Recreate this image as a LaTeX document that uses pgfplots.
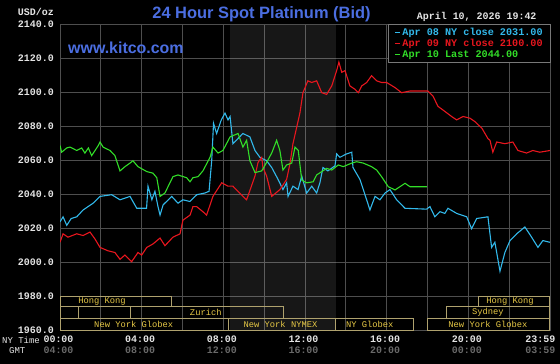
\documentclass[border=0pt]{standalone}
\usepackage{pgfplots}
\pgfplotsset{compat=1.18}
\usepackage{fontspec}
\setmainfont{Liberation Sans}
\setmonofont{Liberation Mono}
\definecolor{bluec}{RGB}{50,185,235}
\definecolor{redc}{RGB}{232,22,30}
\definecolor{greenc}{RGB}{50,222,40}
\definecolor{titlec}{RGB}{75,110,225}
\definecolor{goldc}{RGB}{230,200,70}
\definecolor{boxc}{RGB}{175,162,110}
\definecolor{gridc}{RGB}{78,78,78}
\definecolor{legc}{RGB}{120,120,120}
\definecolor{tickc}{RGB}{228,228,228}
\definecolor{gmtc}{RGB}{105,105,105}
\begin{document}
\begin{tikzpicture}
\useasboundingbox (0,0) rectangle (560bp,364bp);
\fill[black] (0,0) rectangle (560bp,364bp);
\begin{axis}[
  at={(60bp,33.3bp)}, anchor=south west,
  scale only axis, width=490bp, height=306bp,
  xmin=0, xmax=24, ymin=1960, ymax=2140,
  axis line style={draw=gridc, line width=0.8bp},
  ytick={1960,1980,2000,2020,2040,2060,2080,2100,2120,2140},
  yticklabels={1960.0,1980.0,2000.0,2020.0,2040.0,2060.0,2080.0,2100.0,2120.0,2140.0},
  xtick={0,4,8,12,16,20,23.6},
  xticklabels={00:00\\\textcolor{gmtc}{04:00},04:00\\\textcolor{gmtc}{08:00},08:00\\\textcolor{gmtc}{12:00},12:00\\\textcolor{gmtc}{16:00},16:00\\\textcolor{gmtc}{20:00},20:00\\\textcolor{gmtc}{00:00},23:59\\\textcolor{gmtc}{03:59}},
  minor xtick={0,2,4,6,8,10,12,14,16,18,20,22,24},
  xmajorgrids=false, xminorgrids=true, ymajorgrids=true,
  major grid style={draw=gridc, line width=0.8bp},
  minor grid style={draw=gridc, line width=0.8bp},
  major tick length=0pt, minor tick length=0pt,
  tick style={draw=none},
  /pgf/number format/assume math mode=true,
  yticklabel style={font=\ttfamily\bfseries\fontsize{10}{11}\selectfont, text=tickc, inner sep=0pt, xshift=-6bp},
  xticklabel style={font=\ttfamily\bfseries\fontsize{10}{11}\selectfont, text=tickc, align=center, inner sep=0pt, anchor=north, yshift=-5bp, xshift=-1.5bp},
  legend cell align=left,
  legend style={at={(1.002,1.002)}, anchor=north east, fill=black, draw=legc, line width=0.6bp,
    font=\ttfamily\bfseries\fontsize{10.2}{10.5}\selectfont, inner xsep=6bp, inner ysep=1.5bp, row sep=-1.5bp},
  legend image code/.code={\draw[#1, line width=1.3bp] (0bp,0bp) -- (5bp,0bp);},
]
% NYMEX session shading
\addplot[draw=none, fill=white, fill opacity=0.09, forget plot] coordinates {(8.33,1960)(13.5,1960)(13.5,2140)(8.33,2140)} --cycle;
% market session boxes
\addplot[boxc, line width=0.8bp, forget plot] coordinates {(0,1974.1)(5.47,1974.1)(5.47,1980)(0,1980)} --cycle;
\addplot[boxc, line width=0.8bp, forget plot] coordinates {(20.49,1974.1)(23.95,1974.1)(23.95,1980)(20.49,1980)} --cycle;
\addplot[boxc, line width=0.8bp, forget plot] coordinates {(0,1967.3)(0.92,1967.3)(0.92,1974.1)(0,1974.1)} --cycle;
\addplot[boxc, line width=0.8bp, forget plot] coordinates {(0.92,1967.3)(3.43,1967.3)(3.43,1974.1)(0.92,1974.1)} --cycle;
\addplot[boxc, line width=0.8bp, forget plot] coordinates {(3.43,1967.3)(10.94,1967.3)(10.94,1974.1)(3.43,1974.1)} --cycle;
\addplot[boxc, line width=0.8bp, forget plot] coordinates {(18.94,1967.3)(23.97,1967.3)(23.97,1974.1)(18.94,1974.1)} --cycle;
\addplot[boxc, line width=0.8bp, forget plot] coordinates {(0,1960)(8.24,1960)(8.24,1967.3)(0,1967.3)} --cycle;
\addplot[boxc, line width=0.8bp, forget plot] coordinates {(8.24,1960)(13.47,1960)(13.47,1967.3)(8.24,1967.3)} --cycle;
\addplot[boxc, line width=0.8bp, forget plot] coordinates {(13.47,1960)(17.3,1960)(17.3,1967.3)(13.47,1967.3)} --cycle;
\addplot[boxc, line width=0.8bp, forget plot] coordinates {(18.0,1960)(23.95,1960)(23.95,1967.3)(18.0,1967.3)} --cycle;
\begin{scope}[every node/.style={font=\ttfamily\fontsize{8.8}{9}\selectfont, text=goldc, inner sep=0pt}]
\node at (axis cs:2.06,1977.2) {Hong Kong};
\node at (axis cs:7.14,1970.6) {Zurich};
\node at (axis cs:3.61,1963.8) {New York Globex};
\node at (axis cs:10.8,1963.8) {New York NYMEX};
\node at (axis cs:15.17,1963.8) {NY Globex};
\node at (axis cs:20.96,1963.8) {New York Globex};
\node at (axis cs:20.96,1970.6) {Sydney};
\node at (axis cs:22.04,1977.2) {Hong Kong};
\end{scope}
% Apr 08
\addplot[bluec, line width=1.1bp] coordinates {(0,2024)(0.15,2027)(0.33,2022)(0.55,2026)(0.82,2027)(1.13,2031)(1.62,2035)(1.96,2039)(2.53,2040)(2.94,2037)(3.43,2039)(3.76,2032)(4.24,2032)(4.31,2045)(4.5,2037)(4.65,2042)(4.8,2033)(4.9,2028)(5.05,2034)(5.47,2039)(5.78,2035)(6.02,2037)(6.36,2036)(6.7,2040)(7.1,2041)(7.3,2042)(7.43,2060)(7.52,2082)(7.67,2076)(7.9,2084)(8.08,2088)(8.23,2084)(8.33,2086)(8.47,2070)(8.96,2076)(9.3,2074)(9.55,2066)(9.79,2062)(10.12,2060)(10.37,2056)(10.68,2049)(10.92,2043)(11.1,2047)(11.17,2039)(11.41,2045)(11.66,2043)(11.84,2051)(12.08,2041)(12.33,2045)(12.57,2041)(12.73,2047)(12.88,2056)(13.12,2054)(13.47,2057)(13.55,2064)(13.71,2062)(14.04,2064)(14.29,2065)(14.35,2056)(14.69,2049)(15.02,2037)(15.18,2031)(15.43,2039)(15.67,2037)(15.92,2041)(16.16,2043)(16.49,2037)(16.9,2032)(17.96,2031.5)(18.12,2033)(18.36,2027)(18.61,2030)(18.85,2029)(19.0,2032)(19.43,2029)(19.92,2027)(20.16,2020)(20.41,2026)(20.96,2027)(21.14,2009)(21.3,2012)(21.55,1995)(21.79,2006)(22.04,2013)(22.37,2017)(22.77,2021)(23.1,2015)(23.41,2009)(23.65,2013)(24,2012)};
\addlegendentry{\textcolor{bluec}{Apr 08 NY close 2031.00}}
% Apr 09
\addplot[redc, line width=1.1bp] coordinates {(0,2012)(0.15,2017)(0.39,2015)(0.82,2017)(1.13,2016)(1.47,2018)(1.71,2014)(1.96,2009)(2.35,2007)(2.69,2006)(2.94,2002)(3.18,2004.5)(3.51,2000.6)(3.82,2006)(4.0,2004.5)(4.25,2009)(4.55,2011)(4.9,2014.5)(5.14,2010)(5.53,2015)(5.88,2017)(6.02,2025)(6.37,2028)(6.51,2033)(6.69,2033)(7.0,2030)(7.18,2028)(7.49,2039)(7.92,2047)(8.23,2045)(8.47,2045)(8.96,2039)(9.14,2037)(9.55,2051)(9.7,2059)(9.88,2062)(9.94,2056)(10.12,2051)(10.37,2039)(10.77,2043)(11.1,2049)(11.26,2058)(11.41,2070)(11.75,2088)(11.9,2100)(12.14,2107)(12.33,2106)(12.57,2107)(12.82,2100)(13.06,2099)(13.31,2104)(13.55,2113)(13.66,2118)(13.8,2112)(13.96,2113)(14.2,2104)(14.45,2102)(14.61,2100)(14.78,2104)(15.02,2106)(15.26,2110)(15.51,2107)(15.75,2106)(16.0,2106)(16.41,2103)(16.73,2100)(17.14,2101)(18.02,2101)(18.27,2098)(18.51,2092)(18.85,2089)(19.18,2086)(19.43,2084)(19.74,2086)(20.08,2085)(20.32,2083)(20.67,2079)(20.96,2073)(21.06,2072)(21.2,2065)(21.39,2071)(21.79,2070)(22.18,2071)(22.43,2066)(22.85,2064.5)(23.16,2066)(23.5,2065)(24,2066)};
\addlegendentry{\textcolor{redc}{Apr 09 NY close 2100.00}}
% Apr 10
\addplot[greenc, line width=1.1bp] coordinates {(0,2069)(0.08,2065)(0.33,2067.5)(0.49,2068)(0.82,2066)(1.06,2067.5)(1.22,2064.5)(1.39,2067.5)(1.55,2063)(1.88,2069)(1.96,2071)(2.11,2068)(2.45,2066)(2.69,2063)(2.94,2054)(3.18,2056.5)(3.43,2058.6)(3.57,2060)(3.82,2056.5)(4.25,2053.6)(4.55,2052.7)(4.74,2050)(4.9,2039)(5.14,2041)(5.29,2044.7)(5.53,2050.6)(5.78,2051.6)(6.2,2050)(6.37,2047.6)(6.51,2050)(6.76,2050.6)(7.0,2054)(7.35,2062)(7.49,2068)(7.74,2064.5)(7.98,2066)(8.33,2074)(8.72,2076)(8.96,2068)(9.14,2072)(9.3,2060)(9.55,2053)(9.88,2054)(10.12,2059)(10.37,2064.5)(10.61,2072)(10.77,2066)(10.92,2054.5)(11.1,2057.5)(11.35,2058.6)(11.51,2068)(11.67,2066)(11.84,2048.6)(12.08,2047)(12.4,2047.6)(12.57,2051.6)(13.06,2055.5)(13.31,2054.5)(13.63,2057.5)(13.87,2056.5)(14.29,2058.6)(14.53,2059.4)(14.85,2058.6)(15.26,2056.5)(15.51,2054.5)(15.75,2050.6)(16.08,2044.7)(16.41,2042.8)(16.65,2044.7)(16.9,2046.7)(17.14,2044.7)(17.97,2044.7)};
\addlegendentry{\textcolor{greenc}{Apr 10 Last 2044.00}}
\end{axis}
\node[font=\bfseries\fontsize{16.5}{16.5}\selectfont, text=titlec, inner sep=0pt] at (261.5bp,350bp) {24 Hour Spot Platinum (Bid)};
\node[font=\bfseries\fontsize{16}{16}\selectfont, text=titlec, anchor=west, inner sep=0pt] at (68bp,316bp) {www.kitco.com};
\node[font=\ttfamily\bfseries\fontsize{10}{10}\selectfont, text=tickc, anchor=east, inner sep=0pt] at (54bp,352bp) {USD/oz};
\node[font=\ttfamily\bfseries\fontsize{10}{10}\selectfont, text=tickc, anchor=west, inner sep=0pt] at (416.7bp,347bp) {April 10, 2026 19:42};
\node[font=\ttfamily\fontsize{9}{9}\selectfont, text=tickc, anchor=west, inner sep=0pt] at (2bp,23.5bp) {NY Time};
\node[font=\ttfamily\fontsize{9}{9}\selectfont, text=tickc, anchor=west, inner sep=0pt] at (9bp,13.5bp) {GMT};
\end{tikzpicture}
\end{document}
